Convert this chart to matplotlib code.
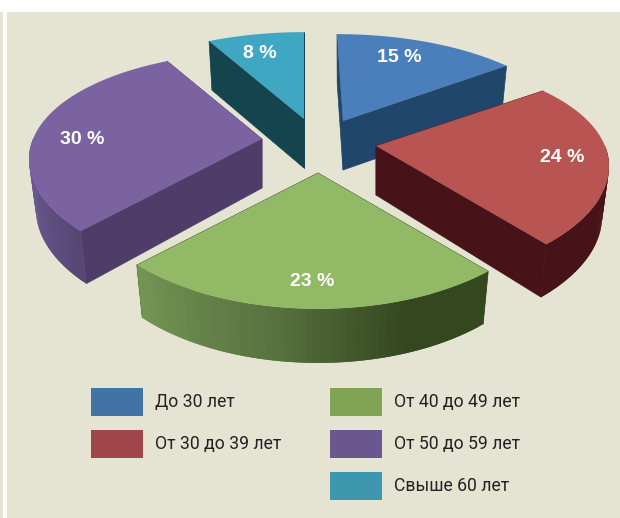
# exploded 3D pie, drawn by hand because matplotlib has no perspective pie
import numpy as np
import matplotlib
matplotlib.use('Agg')
import matplotlib.pyplot as plt
from matplotlib.patches import Rectangle, Patch
from matplotlib.colors import to_rgb

# data
groups = ['До 30 лет', 'От 30 до 39 лет', 'От 40 до 49 лет', 'От 50 до 59 лет', 'Свыше 60 лет']
shares = [15, 24, 23, 30, 8]

# styles
top_colors = ['#4a7fbb', '#b85552', '#91b966', '#7a63a0', '#40a7c2']
legend_colors = ['#4173a5', '#a04648', '#7fa454', '#6a5790', '#3d97af']
face_colors = ['#21466b', '#471319', '#34471f', '#4d3d68', '#14444e']
arc_colors = [('#21466b',) * 4, ('#471319',) * 4,
              ('#34471f', '#34471f', '#587340', '#739553'),
              ('#574672', '#5e4e80', '#66558c', '#6d5a94'),
              ('#14444e',) * 4]
arc_stops = [0, 0.25, 0.6, 1]
apex = [(343, 121), (376, 146), (318, 173), (262, 139), (304, 119)]
lean = [6, 0, 0, 0, 0]
label_pos = [(399, 57), (562, 158), (312, 281), (82, 139), (260, 53)]
draw_order = [4, 0, 3, 1, 2]

# perspective
A, B, KX, KY = 229, 106, 0.185, 0.22
BEIGE = '#e5e4d3'


def project(i, theta, bottom=False):
    X, Y = np.sin(theta), -np.cos(theta)
    dx = A*X/(1 - KX*Y) + lean[i]*np.minimum(Y, 0)
    dy = B*Y/(1 - KY*Y)
    if bottom:
        h = 49 + 5*np.maximum(Y, 0)
        return apex[i][0] + 0.97*dx, apex[i][1] + dy + h
    return apex[i][0] + dx, apex[i][1] + dy


fig = plt.figure(figsize=(6.2, 5.18), dpi=100, facecolor='white')
ax = fig.add_axes([0, 0, 1, 1])
ax.set_xlim(0, 620)
ax.set_ylim(518, 0)
ax.axis('off')
ax.add_patch(Rectangle((7, 12), 613, 506, fc=BEIGE, ec='none'))
ax.add_patch(Rectangle((0, 12), 3, 506, fc=BEIGE, ec='none'))

edges = np.radians(np.cumsum([0] + shares) * 3.6)

for i in draw_order:
    t0, t1 = edges[i], edges[i+1]

    # radial faces, the one further back goes first
    for t in sorted([t0, t1], key=lambda v: -np.cos(v)):
        xo, yo = project(i, t)
        xp, yp = project(i, t, bottom=True)
        ax.fill([apex[i][0], xo, xp, apex[i][0]], [apex[i][1], yo, yp, apex[i][1] + 49],
                color=face_colors[i], lw=0.5)

    # outer wall, only the part facing the viewer
    # every strip runs on under the next one so no seams show
    lo, hi = max(t0, np.pi/2), min(t1, 3*np.pi/2)
    if lo < hi:
        ts = np.linspace(lo, hi, 60)
        c = np.array([to_rgb(x) for x in arc_colors[i]])
        for k in range(len(ts)-1):
            f = k/(len(ts)-2)
            col = [np.interp(f, arc_stops, c[:, n]) for n in range(3)]
            part = ts[k:k+3]
            xs, ys = project(i, part)
            xr, yr = project(i, part[::-1], bottom=True)
            ax.fill(np.r_[xs, xr], np.r_[ys, yr], color=col, lw=0)

    # top of the slice
    ts = np.linspace(t0, t1, 80)
    xs, ys = project(i, ts)
    ax.fill(np.r_[apex[i][0], xs], np.r_[apex[i][1], ys], color=top_colors[i], lw=0)

for (x, y), s in zip(label_pos, shares):
    ax.text(x, y, f'{s} %', color='white', fontsize=14, fontweight='bold',
            family='Liberation Sans', ha='center', va='center', zorder=5)


# legend, two separate columns
def make_legend(idx, x, y):
    handles = [Patch(fc=legend_colors[n], ec='none', label=groups[n]) for n in idx]
    return ax.legend(handles=handles, loc='upper left', bbox_to_anchor=(x, y),
                     bbox_transform=ax.transData, frameon=False, borderpad=0, borderaxespad=0,
                     prop={'family': 'Roboto', 'size': 12.7}, labelcolor='#222222',
                     handlelength=2.95, handleheight=2.05, handletextpad=0.68, labelspacing=0.8)


leg1 = make_legend([0, 1], 91, 388)
ax.add_artist(leg1)
make_legend([2, 3, 4], 330, 388)

fig.savefig('out.png', dpi=100, facecolor='white')
